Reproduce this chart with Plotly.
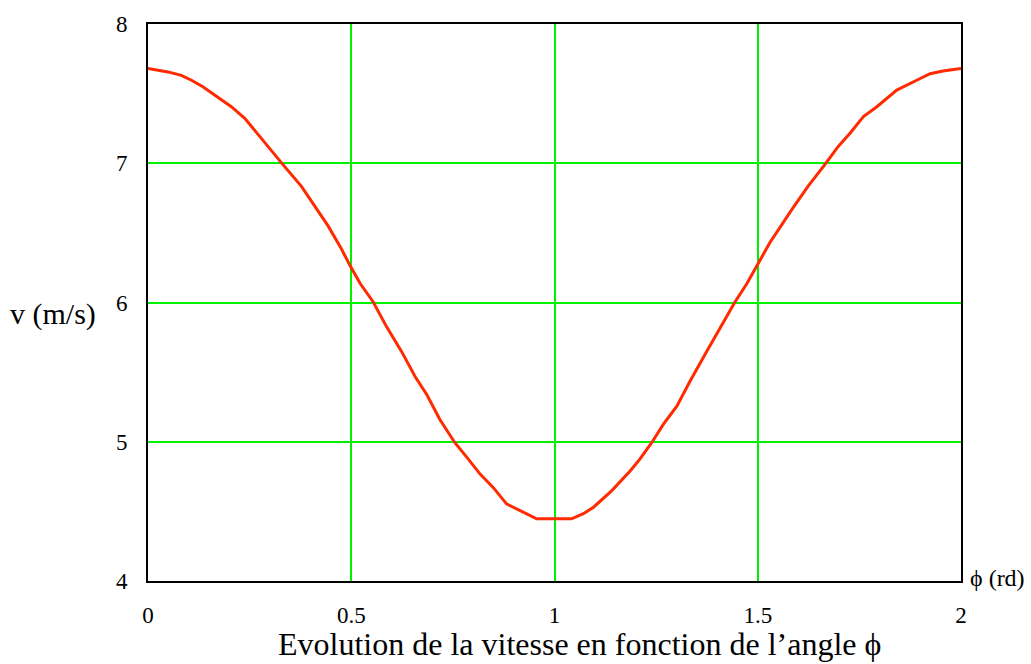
import plotly.graph_objects as go

# Vitesse v (m/s) en fonction de l'angle phi (rd)
phi = [0.0, 0.049, 0.082, 0.107, 0.135, 0.164, 0.205, 0.238, 0.271, 0.299,
       0.332, 0.377, 0.41, 0.443, 0.476, 0.497, 0.522, 0.554, 0.587, 0.624,
       0.657, 0.686, 0.718, 0.755, 0.788, 0.817, 0.849, 0.882, 0.923, 0.956,
       1.042, 1.071, 1.096, 1.141, 1.186, 1.21, 1.239, 1.268, 1.301, 1.333,
       1.374, 1.407, 1.444, 1.473, 1.501, 1.53, 1.587, 1.624, 1.665, 1.698,
       1.727, 1.76, 1.793, 1.842, 1.891, 1.924, 1.956, 2.0]
v = [7.68, 7.656, 7.631, 7.596, 7.549, 7.49, 7.406, 7.323, 7.204, 7.109,
     6.99, 6.836, 6.693, 6.55, 6.384, 6.265, 6.136, 6.004, 5.825, 5.647,
     5.469, 5.338, 5.16, 4.993, 4.875, 4.768, 4.672, 4.554, 4.494, 4.447,
     4.447, 4.483, 4.53, 4.649, 4.79, 4.875, 4.993, 5.126, 5.255, 5.433,
     5.647, 5.813, 6.004, 6.134, 6.277, 6.431, 6.681, 6.836, 6.99, 7.121,
     7.216, 7.335, 7.406, 7.525, 7.596, 7.643, 7.662, 7.68]

x_ticks = [0, 0.5, 1, 1.5, 2]
x_tick_labels = ["0", "0.5", "1", "1.5", "2"]
y_ticks = [4, 5, 6, 7, 8]
y_tick_labels = ["4", "5", "6", "7", "8"]

SERIF = "Liberation Serif, Times New Roman, serif"
GRID = "#00f000"

fig = go.Figure()
fig.add_trace(go.Scatter(
    x=phi, y=v, mode="lines",
    line=dict(color="#ff2a00", width=3),
    hoverinfo="skip", showlegend=False,
))

fig.update_layout(
    width=1031, height=664,
    margin=dict(l=148, r=70, t=20, b=83),
    paper_bgcolor="white", plot_bgcolor="white",
    font=dict(family=SERIF, size=21, color="black"),
    xaxis=dict(
        range=[0, 2], tickvals=x_ticks, ticktext=x_tick_labels,
        showgrid=True, gridcolor=GRID, gridwidth=2,
        zeroline=False, showline=True, linecolor="black", linewidth=2,
        mirror=True, ticks="", ticklabelstandoff=12,
        tickfont=dict(family=SERIF, size=23),
    ),
    yaxis=dict(
        range=[4, 8], tickvals=y_ticks, ticktext=y_tick_labels,
        showgrid=True, gridcolor=GRID, gridwidth=2,
        zeroline=False, showline=True, linecolor="black", linewidth=2,
        mirror=True, ticks="", ticklabelstandoff=14,
        tickfont=dict(family=SERIF, size=23),
    ),
    annotations=[
        dict(text="v (m/s)", xref="paper", yref="paper", x=-0.0615, y=0.48,
             xanchor="right", yanchor="middle", showarrow=False,
             font=dict(family=SERIF, size=30)),
        dict(text="\u03d5 (rd)", xref="paper", yref="paper", x=1.0086, y=0.005,
             xanchor="left", yanchor="middle", showarrow=False,
             font=dict(family=SERIF, size=24)),
        dict(text="Evolution de la vitesse en fonction de l\u2019angle \u03d5",
             xref="paper", yref="paper", x=0.531, y=-0.114,
             xanchor="center", yanchor="middle", showarrow=False,
             font=dict(family=SERIF, size=32)),
    ],
)

fig.write_html("out.html")
